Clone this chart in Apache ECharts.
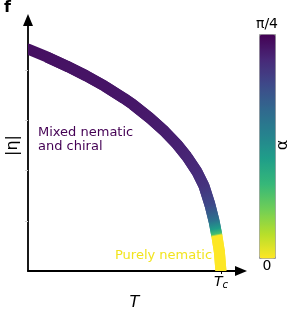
<!DOCTYPE html>
<html><head><meta charset="utf-8">
<script src="https://cdn.jsdelivr.net/npm/echarts@6/dist/echarts.min.js"></script>
<style>html,body{margin:0;padding:0;background:#fff}#c{width:300px;height:316px}</style>
</head><body><div id="c"></div>
<script>
// Temperature in units of Tc
const temperature = [0, 0.098, 0.202, 0.301, 0.399, 0.497, 0.544, 0.632, 0.710, 0.772, 0.824, 0.876, 0.912, 0.943, 0.964, 0.972, 0.977, 0.979, 0.992, 1.0];
// order parameter magnitude |eta| (axis 0..1)
const etaMagnitude = [0.884, 0.853, 0.816, 0.778, 0.736, 0.688, 0.663, 0.609, 0.555, 0.505, 0.455, 0.395, 0.339, 0.264, 0.200, 0.168, 0.148, 0.140, 0.076, 0];
// mixing angle alpha (radians, 0..pi/4)
const alphaAngle = [0.754, 0.750, 0.746, 0.744, 0.742, 0.738, 0.736, 0.730, 0.723, 0.715, 0.705, 0.690, 0.668, 0.613, 0.487, 0.353, 0.236, 0, 0, 0];
const xTickValues = [1];
const yTickValues = [0.2, 0.4, 0.6, 0.8];
const colorbarLabels = ['π/4', '0'];

const VIRIDIS = ['#440154','#482878','#3e4989','#31688e','#26828e','#1f9e89','#35b779','#6ece58','#b5de2b','#fde725'];
const AMAX = Math.PI / 4;
function hex2rgb(h){return [parseInt(h.substr(1,2),16),parseInt(h.substr(3,2),16),parseInt(h.substr(5,2),16)];}
function colorFor(a){
  let t = 1 - Math.max(0, Math.min(1, a / AMAX));
  const p = t * (VIRIDIS.length - 1);
  const i = Math.min(VIRIDIS.length - 2, Math.floor(p));
  const f = p - i;
  const c0 = hex2rgb(VIRIDIS[i]), c1 = hex2rgb(VIRIDIS[i+1]);
  const c = c0.map((v,k)=>Math.round(v + (c1[k]-v)*f));
  return 'rgb(' + c.join(',') + ')';
}
const FONT = 'DejaVu Sans';
const data = temperature.map((t,i)=>[t, etaMagnitude[i], alphaAngle[i]]);
const n = data.length;

const chart = echarts.init(document.getElementById('c'), null, {renderer:'canvas'});
chart.setOption({
  animation: false,
  backgroundColor: '#fff',
  grid: {left: 28, right: 59, top: 20, bottom: 45, containLabel: false, outerBoundsMode: 'none'},
  xAxis: {
    type: 'value', min: 0, max: 1.104,
    splitLine: {show: false},
    axisLine: {show: true, onZero: false, symbol: ['none','triangle'], symbolSize: [10,12], lineStyle: {color:'#000', width: 1.8}},
    axisTick: {show: true, customValues: xTickValues, length: 3, lineStyle: {color:'#000', width: 1}},
    axisLabel: {show: true, customValues: xTickValues, margin: 3, formatter: () => '{t|T}{s|c}',
      rich: {t: {fontFamily: FONT, fontStyle: 'italic', fontSize: 14, color: '#000'},
             s: {fontFamily: FONT, fontStyle: 'italic', fontSize: 10, color: '#000', verticalAlign: 'bottom', padding: [6,0,0,0]}}},
    name: 'T', nameLocation: 'middle', nameGap: 22,
    nameTextStyle: {fontFamily: FONT, fontStyle: 'italic', fontSize: 16, color: '#000'}
  },
  yAxis: {
    type: 'value', min: 0, max: 1,
    splitLine: {show: false},
    axisLine: {show: true, onZero: false, symbol: ['none','triangle'], symbolSize: [10,12], lineStyle: {color:'#000', width: 1.8}},
    axisTick: {show: true, customValues: yTickValues, length: 3, lineStyle: {color:'#cfcfcf', width: 1}},
    axisLabel: {show: false},
    name: '|η|', nameLocation: 'middle', nameGap: 7, nameRotate: 90,
    nameTextStyle: {fontFamily: FONT, fontSize: 16, color: '#000'}
  },
  visualMap: {
    type: 'continuous', min: 0, max: AMAX, dimension: 2, seriesIndex: 0,
    calculable: false, hoverLink: false,
    left: 259, top: 34, itemWidth: 16, itemHeight: 224, padding: 0,
    borderWidth: 1, borderColor: '#999',
    inRange: {color: VIRIDIS.slice().reverse()},
    text: null
  },
  graphic: [
    {type:'text', left: 4, top: 0, style: {text: 'f', font: 'bold 16px "DejaVu Sans"', fill: '#000'}},
    {type:'text', left: 38, top: 126, style: {text: 'Mixed nematic\nand chiral', font: '13px "DejaVu Sans"', fill: '#440154', lineHeight: 14}},
    {type:'text', left: 115, top: 249, style: {text: 'Purely nematic', font: '13px "DejaVu Sans"', fill: '#f2e41f'}},
    {type:'text', x: 267, y: 24, style: {text: colorbarLabels[0], font: '14px "DejaVu Sans"', fill: '#000', align: 'center', verticalAlign: 'middle'}},
    {type:'text', x: 267, y: 266, style: {text: colorbarLabels[1], font: '14px "DejaVu Sans"', fill: '#000', align: 'center', verticalAlign: 'middle'}},
    {type:'text', x: 283, y: 145, rotation: Math.PI/2, style: {text: 'α', font: '16px "DejaVu Sans"', fill: '#000', align: 'center', verticalAlign: 'middle'}}
  ],
  series: [{
    type: 'custom',
    clip: true,
    data: data,
    encode: {x: 0, y: 1},
    renderItem: function(params, api){
      const i = params.dataIndex;
      if (i >= n - 1) return null;
      const pts = [];
      for (let k = i; k <= Math.min(i + 2, n - 1); k++) pts.push(api.coord([temperature[k], etaMagnitude[k]]));
      const p0 = pts[0], p1 = pts[1];
      const c0 = colorFor(alphaAngle[i]), c1 = colorFor(alphaAngle[i+1]);
      return {
        type: 'polyline',
        shape: {points: pts},
        style: {
          fill: null,
          stroke: new echarts.graphic.LinearGradient(p0[0], p0[1], p1[0], p1[1], [{offset:0, color:c0},{offset:1, color:c1}], true),
          lineWidth: 11,
          lineJoin: 'round',
          lineCap: (i === 0 || i === n - 2) ? 'round' : 'butt'
        }
      };
    }
  }]
});
</script></body></html>
